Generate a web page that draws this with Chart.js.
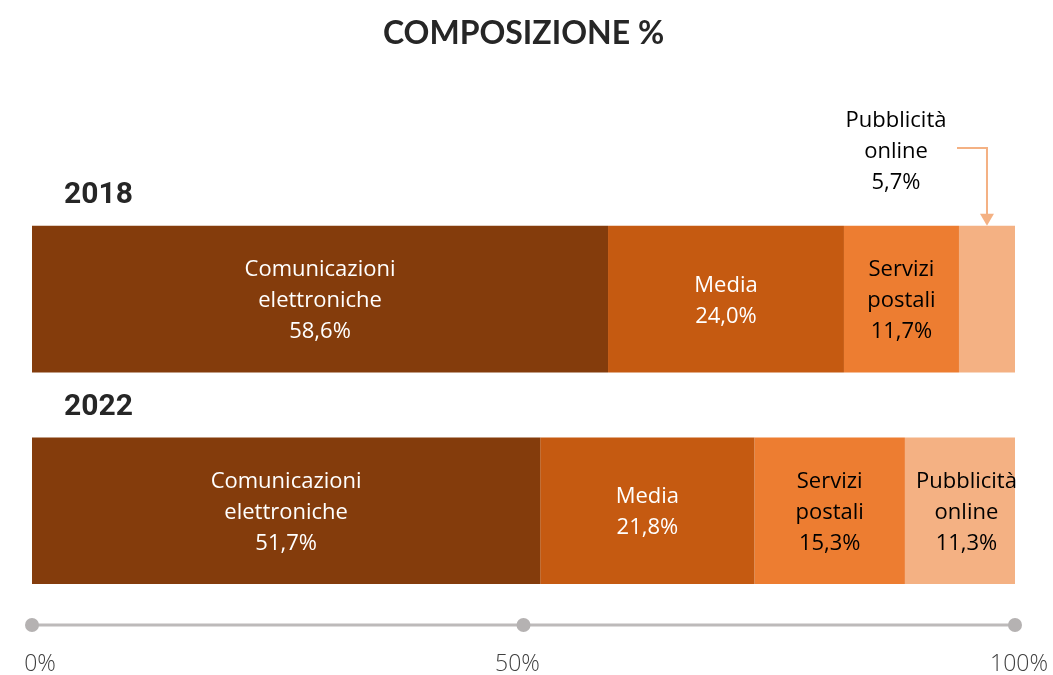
<!DOCTYPE html>
<html>
<head>
<meta charset="utf-8">
<script src="https://cdn.jsdelivr.net/npm/chart.js@4"></script>
<style>
  html, body { margin: 0; padding: 0; background: #fff; }
  #wrap { width: 1053px; height: 675px; }
</style>
</head>
<body>
<div id="wrap"><canvas id="barChart" width="1053" height="675"></canvas></div>
<script>
const years = ['2018', '2022'];
const segmentNames = [
  ['Comunicazioni', 'elettroniche'],
  ['Media'],
  ['Servizi', 'postali'],
  ['Pubblicità', 'online']
];
const elettroniche = [58.6, 51.7];
const media = [24.0, 21.8];
const postali = [11.7, 15.3];
const online = [5.7, 11.3];
const segColors = ['#843C0C', '#C55A11', '#ED7D31', '#F4B183'];
const labelColors = ['#ffffff', '#ffffff', '#000000', '#000000'];
const axisTicks = [0, 50, 100];

const FONT = "'Open Sans', 'Noto Sans', sans-serif";
const fmt = v => v.toFixed(1).replace('.', ',') + '%';

// labels inside segments, year headings, callout, bottom axis
const decorPlugin = {
  id: 'decor',
  afterDatasetsDraw(chart) {
    const ctx = chart.ctx;
    const xs = chart.scales.x;
    ctx.save();
    ctx.textAlign = 'center';
    ctx.textBaseline = 'middle';
    chart.data.datasets.forEach((ds, di) => {
      const meta = chart.getDatasetMeta(di);
      meta.data.forEach((bar, i) => {
        const lines = segmentNames[di].concat([fmt(ds.data[i])]);
        const lh = 31;
        let cx = (bar.x + bar.base) / 2;
        let cy = bar.y + 2;
        ctx.fillStyle = labelColors[di];
        if (di === 3 && i === 0) {
          // small slice: label above with an arrow
          cx = 896;
          cy = 152;
          const ax = (bar.x + bar.base) / 2;
          const top = bar.y - bar.height / 2;
          ctx.strokeStyle = segColors[3];
          ctx.lineWidth = 2;
          ctx.beginPath();
          ctx.moveTo(957, 148);
          ctx.lineTo(ax, 148);
          ctx.lineTo(ax, top - 10);
          ctx.stroke();
          ctx.fillStyle = segColors[3];
          ctx.beginPath();
          ctx.moveTo(ax - 7, top - 12);
          ctx.lineTo(ax + 7, top - 12);
          ctx.lineTo(ax, top);
          ctx.closePath();
          ctx.fill();
          ctx.fillStyle = '#000';
        }
        if (di === 3 && i === 1) cx += 6;
        ctx.font = '22px ' + FONT;
        const y0 = cy - (lines.length - 1) * lh / 2;
        lines.forEach((t, k) => ctx.fillText(t, cx, y0 + k * lh));
      });
    });

    // year headings
    const meta0 = chart.getDatasetMeta(0);
    ctx.textAlign = 'left';
    ctx.fillStyle = '#262626';
    ctx.font = "bold 30px Roboto, 'Liberation Sans', sans-serif";
    meta0.data.forEach((bar, i) => {
      ctx.fillText(years[i], 64, bar.y - bar.height / 2 - 30);
    });

    // bottom axis with dots
    const ay = chart.chartArea.bottom + 8.5;
    ctx.strokeStyle = '#BDBABA';
    ctx.lineWidth = 3;
    ctx.beginPath();
    ctx.moveTo(xs.getPixelForValue(axisTicks[0]), ay);
    ctx.lineTo(xs.getPixelForValue(axisTicks[axisTicks.length - 1]), ay);
    ctx.stroke();
    ctx.textAlign = 'center';
    ctx.font = '300 23px ' + FONT;
    axisTicks.forEach((v, k) => {
      const px = xs.getPixelForValue(v);
      ctx.fillStyle = '#B5B2B2';
      ctx.beginPath();
      ctx.arc(px, ay, 7, 0, Math.PI * 2);
      ctx.fill();
      ctx.fillStyle = '#404040';
      const dx = k === 1 ? -6 : (k === 0 ? 8 : 4);
      ctx.fillText(v + '%', px + dx, ay + 39);
    });
    ctx.restore();
  }
};

new Chart(document.getElementById('barChart').getContext('2d'), {
  type: 'bar',
  data: {
    labels: years,
    datasets: [
      { label: 'Comunicazioni elettroniche', data: elettroniche, backgroundColor: segColors[0] },
      { label: 'Media', data: media, backgroundColor: segColors[1] },
      { label: 'Servizi postali', data: postali, backgroundColor: segColors[2] },
      { label: 'Pubblicità online', data: online, backgroundColor: segColors[3] }
    ]
  },
  options: {
    indexAxis: 'y',
    responsive: false,
    animation: false,
    layout: { padding: { left: 32, right: 38, top: 0, bottom: 58.5 } },
    datasets: { bar: { barPercentage: 0.693, categoryPercentage: 1.0, borderWidth: 0 } },
    scales: {
      x: { stacked: true, display: false, min: 0, max: 100 },
      y: { stacked: true, display: false }
    },
    plugins: {
      legend: { display: false },
      tooltip: { enabled: false },
      title: {
        display: true,
        text: 'COMPOSIZIONE %',
        color: '#262626',
        font: { family: "'Lato', 'DejaVu Sans', sans-serif", size: 32, weight: 'bold', lineHeight: 1.2 },
        padding: { top: 14, bottom: 140.9 }
      }
    }
  },
  plugins: [decorPlugin]
});
</script>
</body>
</html>
